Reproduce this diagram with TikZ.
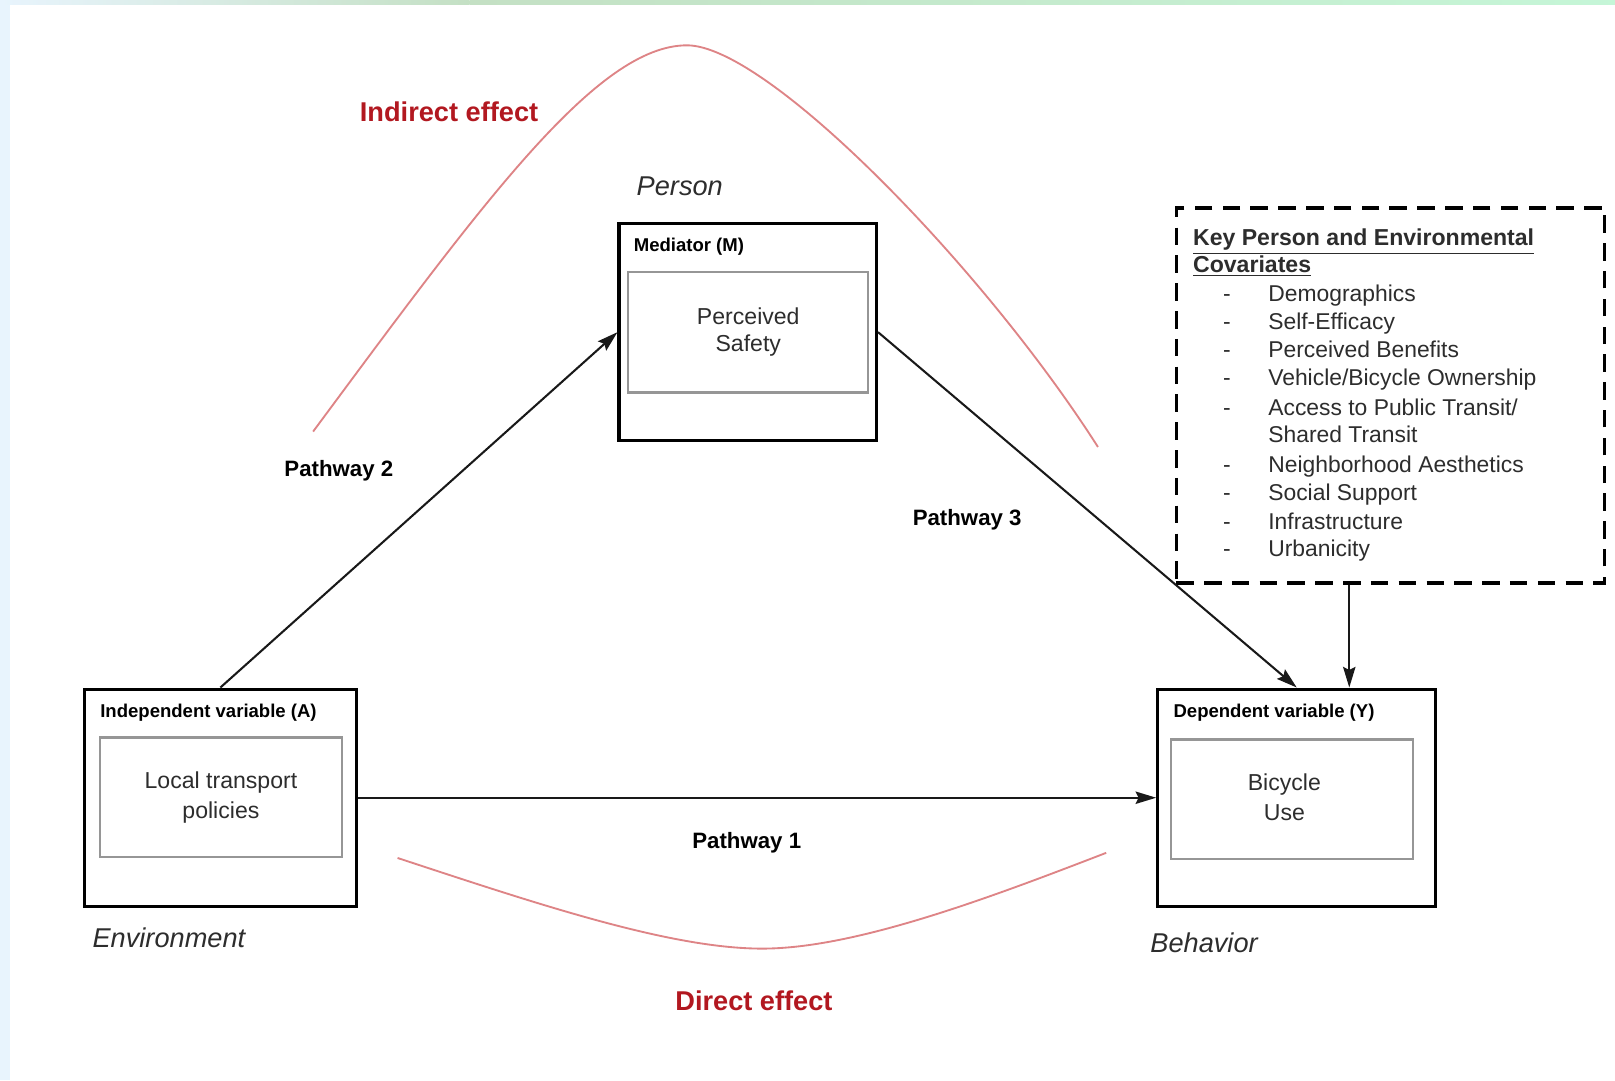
\documentclass[tikz,border=0pt]{standalone}
\usepackage{fontspec}
\setmainfont{Liberation Sans}
\usetikzlibrary{arrows.meta,calc}
\definecolor{effred}{RGB}{178,24,32}
\definecolor{curvered}{RGB}{222,132,134}
\definecolor{txtgray}{RGB}{45,45,45}
\definecolor{stripblue}{RGB}{232,244,253}
\definecolor{stripgreen}{RGB}{196,224,196}
\definecolor{innergray}{RGB}{150,150,150}
\begin{document}
\begin{tikzpicture}[x=0.5pt,y=-0.5pt,
  outerbox/.style={draw=black,line width=1.5pt,inner sep=0pt},
  innerbox/.style={draw=innergray,line width=1.1pt,inner sep=0pt,align=center,text=txtgray},
  innertext/.style={inner sep=0pt,align=center,text=txtgray},
  boxlabel/.style={font=\fontsize{9}{11}\selectfont\bfseries,inner sep=0pt,anchor=west},
  pathlabel/.style={font=\fontsize{10.8}{13}\selectfont\bfseries,inner sep=0pt},
  efflabel/.style={font=\fontsize{13.2}{16}\selectfont\bfseries,text=effred,inner sep=0pt},
  domainlabel/.style={font=\fontsize{13.2}{16}\selectfont\itshape,text=txtgray,inner sep=0pt},
  covtext/.style={font=\fontsize{11.1}{13}\selectfont,text=txtgray,inner sep=0pt,anchor=base west},
  covhead/.style={font=\fontsize{11.2}{13}\selectfont\bfseries,text=txtgray,inner sep=0pt,anchor=base west},
  arr/.style={draw=black!90,line width=1pt,-{Stealth[length=10pt,width=6pt,inset=1.5pt]}},
  effcurve/.style={draw=curvered,line width=0.9pt}]

% background
\useasboundingbox (0,0) rectangle (1568,1049);
\fill[white] (0,0) rectangle (1568,1049);
\fill[stripblue] (0,0) rectangle (10,1049);
\shade[left color=stripblue,right color=stripgreen] (0,0) rectangle (456,4);
\shade[left color=stripgreen,right color=stripblue!85!green] (456,0) rectangle (1568,4);

% boxes
\node[outerbox,minimum width=125pt,minimum height=105.5pt] (M) at (726,322.5) {};
\node[innerbox,minimum width=116.5pt,minimum height=58.5pt,
      font=\fontsize{11.2}{13}\selectfont] (Min) at (726.5,322.5) {Perceived\\Safety};
\node[boxlabel] (Mlab) at (615,239.5) {Mediator (M)};

\node[outerbox,minimum width=132pt,minimum height=105.5pt] (A) at (214,774.5) {};
\node[innerbox,minimum width=117.5pt,minimum height=58pt,
      font=\fontsize{11.2}{14.5}\selectfont] (Ain) at (214.5,774) {Local transport\\policies};
\node[boxlabel] (Alab) at (97,691.5) {Independent variable (A)};

\node[outerbox,minimum width=135pt,minimum height=105.5pt] (Y) at (1259,774.5) {};
\node[innerbox,minimum width=117.5pt,minimum height=58pt] (Yin) at (1254.5,776) {};
\node[innertext,font=\fontsize{11.2}{14.5}\selectfont] (Ytxt) at (1247,774) {Bicycle\\Use};
\node[boxlabel] (Ylab) at (1139,691.5) {Dependent variable (Y)};

% covariates box
\node[draw=black,line width=1.6pt,dash pattern=on 8.5pt off 5pt,
      minimum width=208pt,minimum height=182pt,inner sep=0pt] (Cov) at (1350,384) {};
\node[covhead] (ch1) at (1158,238.5) {\underline{Key Person and Environmental}};
\node[covhead] (ch2) at (1158,264.5) {\underline{Covariates}};
\node[covtext] (d1) at (1187,293) {-};
\node[covtext] (c1) at (1231,293) {Demographics};
\node[covtext] (d2) at (1187,320) {-};
\node[covtext] (c2) at (1231,320) {Self-Efficacy};
\node[covtext] (d3) at (1187,347.5) {-};
\node[covtext] (c3) at (1231,347.5) {Perceived Benefits};
\node[covtext] (d4) at (1187,374.5) {-};
\node[covtext] (c4) at (1231,374.5) {Vehicle/Bicycle Ownership};
\node[covtext] (d5) at (1187,403) {-};
\node[covtext] (c5) at (1231,403) {Access to Public Transit/};
\node[covtext] (c5b) at (1231,429.5) {Shared Transit};
\node[covtext] (d6) at (1187,459) {-};
\node[covtext] (c6) at (1231,459) {Neighborhood Aesthetics};
\node[covtext] (d7) at (1187,485.5) {-};
\node[covtext] (c7) at (1231,485.5) {Social Support};
\node[covtext] (d8) at (1187,514) {-};
\node[covtext] (c8) at (1231,514) {Infrastructure};
\node[covtext] (d9) at (1187,540) {-};
\node[covtext] (c9) at (1231,540) {Urbanicity};

% connectors
\coordinate (cx) at (1310,0);
\draw[arr] (A.north) -- (M.west);
\draw[arr] (M.east) -- (Y.north);
\draw[arr] (A.east) -- (Y.west);
\draw[arr] (Cov.south -| cx) -- (Y.north -| cx);

% labels
\node[pathlabel] (P2) at (329,457) {Pathway 2};
\node[pathlabel] (P3) at (939,505) {Pathway 3};
\node[pathlabel] (P1) at (725,818) {Pathway 1};
\node[domainlabel] (person) at (660,181) {Person};
\node[domainlabel] (env) at (164,910) {Environment};
\node[domainlabel] (beh) at (1169,915) {Behavior};
\node[efflabel] (ind) at (436,109) {Indirect effect};
\node[efflabel] (dir) at (732,972) {Direct effect};

% effect curves
\draw[effcurve] (304,419) .. controls (470,195) and (580,44) .. (667,44)
                .. controls (745,44) and (955,260) .. (1066,434);
\draw[effcurve] (386,833) .. controls (520,877) and (650,921) .. (740,921)
                .. controls (830,921) and (960,872) .. (1074,828);
\end{tikzpicture}
\end{document}
